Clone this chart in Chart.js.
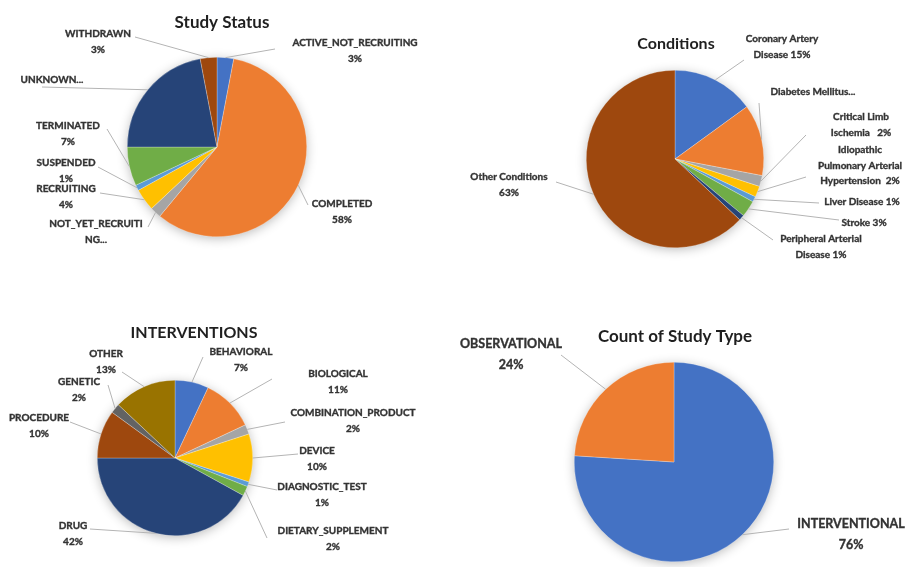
<!DOCTYPE html>
<html>
<head>
<meta charset="utf-8">
<title>Clinical trial summary pies</title>
<script src="https://cdn.jsdelivr.net/npm/chart.js@4.4.1/dist/chart.umd.min.js"></script>
<style>
    body { margin: 0; background: #fff; }
    #wrap { position: relative; width: 912px; height: 567px; }
    #wrap canvas { position: absolute; left: 0; top: 0; }
</style>
</head>
<body>
<div id="wrap">
    <canvas id="status" width="912" height="567"></canvas>
    <canvas id="conditions" width="912" height="567"></canvas>
    <canvas id="interventions" width="912" height="567"></canvas>
    <canvas id="studytype" width="912" height="567"></canvas>
</div>
<script>
// ---- data ----
const statusLabels = ['ACTIVE_NOT_RECRUITING', 'COMPLETED', 'NOT_YET_RECRUITING', 'RECRUITING', 'SUSPENDED', 'TERMINATED', 'UNKNOWN', 'WITHDRAWN'];
const statusValues = [3, 58, 2, 4, 1, 7, 22, 3];
const statusText = [['ACTIVE_NOT_RECRUITING', '{p}'], ['COMPLETED', '{p}'], ['NOT_YET_RECRUITI', 'NG...'], ['RECRUITING', '{p}'],
    ['SUSPENDED', '{p}'], ['TERMINATED', '{p}'], ['UNKNOWN...'], ['WITHDRAWN', '{p}']];

const conditionLabels = ['Coronary Artery Disease', 'Diabetes Mellitus', 'Critical Limb Ischemia', 'Idiopathic Pulmonary Arterial Hypertension',
    'Liver Disease', 'Stroke', 'Peripheral Arterial Disease', 'Other Conditions'];
const conditionValues = [15, 13, 2, 2, 1, 3, 1, 63];
const conditionText = [['Coronary Artery', 'Disease {p}'], ['Diabetes Mellitus...'], ['Critical Limb', 'Ischemia   {p}'],
    ['Idiopathic', 'Pulmonary Arterial', 'Hypertension  {p}'], ['Liver Disease {p}'], ['Stroke {p}'],
    ['Peripheral Arterial', 'Disease {p}'], ['Other Conditions', '{p}']];

const interventionLabels = ['BEHAVIORAL', 'BIOLOGICAL', 'COMBINATION_PRODUCT', 'DEVICE', 'DIAGNOSTIC_TEST', 'DIETARY_SUPPLEMENT', 'DRUG', 'PROCEDURE', 'GENETIC', 'OTHER'];
const interventionValues = [7, 11, 2, 10, 1, 2, 42, 10, 2, 13];

const typeLabels = ['INTERVENTIONAL', 'OBSERVATIONAL'];
const typeValues = [76, 24];

// excel office palette
const officeColors = ['#4472C4', '#ED7D31', '#A5A5A5', '#FFC000', '#5B9BD5', '#70AD47', '#264478', '#9E480E', '#636363', '#997300'];

const W = 912, H = 567;
const FONT = 'Lato, "Open Sans", sans-serif';

// labels, leader lines and title drawn by hand (excel style)
const outLabels = {
    id: 'outLabels',
    beforeDatasetsDraw(chart, args, opts) {
        // soft shadow under the pie
        const ctx = chart.ctx;
        const arc = chart.getDatasetMeta(0).data[0];
        ctx.save();
        ctx.shadowColor = 'rgba(0,0,0,0.3)';
        ctx.shadowBlur = 12;
        ctx.shadowOffsetY = 2;
        ctx.fillStyle = '#fff';
        ctx.beginPath();
        ctx.arc(arc.x, arc.y, arc.outerRadius - 1, 0, Math.PI * 2);
        ctx.fill();
        ctx.restore();
    },
    afterDatasetsDraw(chart, args, opts) {
        const ctx = chart.ctx;
        const meta = chart.getDatasetMeta(0);
        const values = chart.data.datasets[0].data;
        ctx.save();
        meta.data.forEach((el, i) => {
            const p = el.getProps(['x', 'y', 'startAngle', 'endAngle', 'outerRadius'], true);
            const mid = (p.startAngle + p.endAngle) / 2;
            const ex = p.x + Math.cos(mid) * p.outerRadius;
            const ey = p.y + Math.sin(mid) * p.outerRadius;
            const from = opts.from[i];
            ctx.strokeStyle = '#B4B4B4';
            ctx.lineWidth = 1;
            ctx.beginPath();
            ctx.moveTo(from[0], from[1]);
            ctx.lineTo(ex, ey);
            ctx.stroke();

            ctx.fillStyle = '#333';
            ctx.strokeStyle = '#333';
            ctx.lineWidth = 0.35;
            ctx.font = 'bold ' + opts.size + 'px ' + FONT;
            ctx.textAlign = 'center';
            ctx.textBaseline = 'middle';
            const pos = opts.pos[i];
            opts.text[i].forEach((line, j) => {
                const t = line.replace('{p}', values[i] + '%');
                ctx.fillText(t, pos[0], pos[1] + j * opts.lineHeight);
                ctx.strokeText(t, pos[0], pos[1] + j * opts.lineHeight);
            });
        });
        ctx.fillStyle = '#1f1f1f';
        ctx.font = 'bold ' + opts.titleSize + 'px ' + FONT;
        ctx.textAlign = 'center';
        ctx.textBaseline = 'middle';
        ctx.fillText(opts.title, opts.titlePos[0], opts.titlePos[1]);
        ctx.restore();
    }
};

function makePie(id, labels, values, cfg) {
    const ctx = document.getElementById(id).getContext('2d');
    return new Chart(ctx, {
        type: 'pie',
        data: {
            labels: labels,
            datasets: [{
                data: values,
                backgroundColor: officeColors.slice(0, values.length),
                borderColor: 'rgba(255,255,255,0.5)',
                borderWidth: 0.5
            }]
        },
        options: {
            responsive: false,
            animation: false,
            events: [],
            layout: {
                padding: {
                    left: cfg.cx - cfg.r,
                    right: W - cfg.cx - cfg.r,
                    top: cfg.cy - cfg.r,
                    bottom: H - cfg.cy - cfg.r
                }
            },
            plugins: {
                legend: { display: false },
                tooltip: { enabled: false },
                outLabels: cfg
            }
        },
        plugins: [outLabels]
    });
}

makePie('status', statusLabels, statusValues, {
    cx: 217, cy: 147, r: 90,
    title: 'Study Status', titlePos: [222, 23], titleSize: 17,
    size: 10, lineHeight: 15.5,
    text: statusText,
    pos: [[355, 43], [342, 204], [96, 224], [66, 189], [66, 163], [68, 126], [52, 80], [98, 34]],
    from: [[275, 49], [308, 205], [148, 227], [100, 193], [98, 167], [107, 129], [42, 87], [135, 37]]
});

makePie('conditions', conditionLabels, conditionValues, {
    cx: 675, cy: 159, r: 89,
    title: 'Conditions', titlePos: [676, 44], titleSize: 16,
    size: 10, lineHeight: 15.3,
    text: conditionText,
    pos: [[782, 39], [813, 92], [861, 117], [860, 150], [862, 202], [864, 223], [821, 239], [509, 177]],
    from: [[744, 60], [759, 103], [806, 135], [806, 177], [819, 203], [839, 220], [773, 240], [556, 182]]
});

makePie('interventions', interventionLabels, interventionValues, {
    cx: 175, cy: 458, r: 78,
    title: 'INTERVENTIONS', titlePos: [194, 333], titleSize: 16,
    size: 10, lineHeight: 15.5,
    text: interventionLabels.map(l => [l, '{p}']),
    pos: [[241, 352], [338, 374], [353, 413], [317, 451], [322, 487], [333, 531], [73, 526], [39, 418], [79, 382], [106, 354]],
    from: [[203, 357], [272, 379], [285, 422], [298, 454], [277, 490], [267, 538], [90, 529], [70, 422], [108, 385], [122, 372]]
});

makePie('studytype', typeLabels, typeValues, {
    cx: 674, cy: 462, r: 100,
    title: 'Count of Study Type', titlePos: [675, 337], titleSize: 17,
    size: 12.5, lineHeight: 21,
    text: typeLabels.map(l => [l, '{p}']),
    pos: [[851, 524], [511, 344]],
    from: [[789, 529], [561, 355]]
});
</script>
</body>
</html>
